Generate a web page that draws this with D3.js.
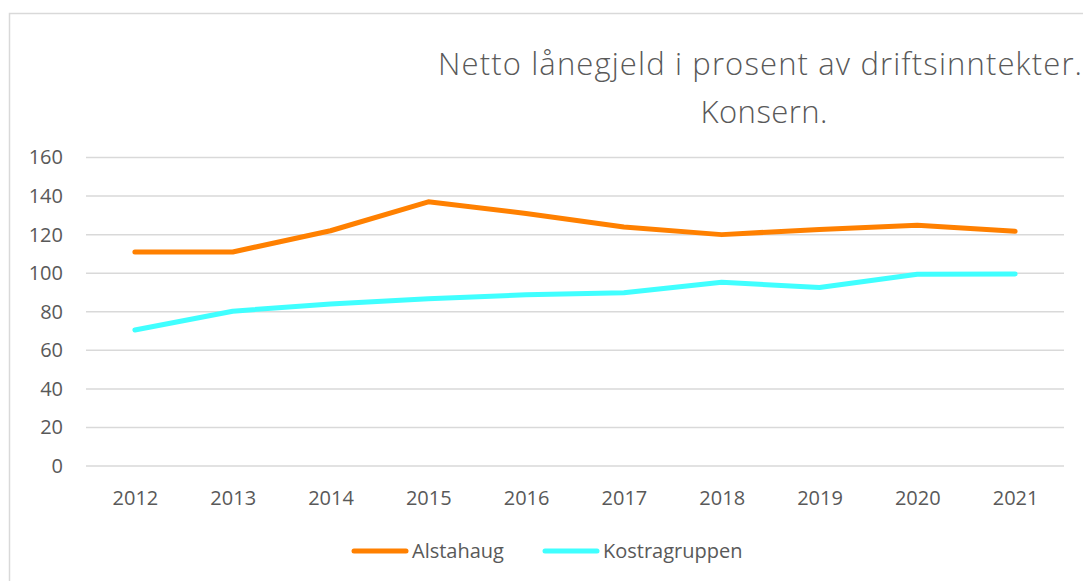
<!DOCTYPE html>
<html>
<head>
    <meta charset="utf-8">
    <title>Netto lånegjeld</title>
    <script src="https://d3js.org/d3.v7.min.js"></script>
    <style>
        body { margin: 0; background: #fff; }
        text { font-family: "Open Sans", "DejaVu Sans", sans-serif; fill: #595959; }
    </style>
</head>
<body>
<div id="chart"></div>
<script>
    // data
    var years = ["2012", "2013", "2014", "2015", "2016", "2017", "2018", "2019", "2020", "2021"];
    var alstahaug = [111, 111, 122, 137, 131, 124, 120, 122.7, 124.8, 121.7];
    var kostra = [70.5, 80.3, 84, 86.7, 88.8, 89.8, 95.3, 92.6, 99.4, 99.6];
    var yTicks = [0, 20, 40, 60, 80, 100, 120, 140, 160];
    var seriesNames = ["Alstahaug", "Kostragruppen"];
    var colors = ["#ff8000", "#40ffff"];

    var W = 1083, H = 581;
    var plot = { left: 86, right: 1064, top: 157.5, bottom: 466 };

    var svg = d3.select("#chart").append("svg")
        .attr("width", W)
        .attr("height", H);

    // chart border
    svg.append("rect")
        .attr("x", 9.5).attr("y", 13.5)
        .attr("width", 1100).attr("height", 600)
        .attr("fill", "#fff")
        .attr("stroke", "#d9d9d9")
        .attr("stroke-width", 1.5);

    var x = d3.scalePoint()
        .domain(years)
        .range([plot.left, plot.right])
        .padding(0.5);

    var y = d3.scaleLinear()
        .domain([0, 160])
        .range([plot.bottom, plot.top]);

    // gridlines
    svg.append("g")
        .selectAll("line")
        .data(yTicks)
        .enter().append("line")
        .attr("x1", plot.left).attr("x2", plot.right)
        .attr("y1", function (d) { return y(d); })
        .attr("y2", function (d) { return y(d); })
        .attr("stroke", "#d9d9d9")
        .attr("stroke-width", 1.5);

    // y axis labels
    var yAxis = svg.append("g")
        .attr("transform", "translate(" + plot.left + ",0)")
        .call(d3.axisLeft(y).tickValues(yTicks).tickSize(0).tickPadding(23));
    yAxis.select(".domain").remove();
    yAxis.selectAll("text").style("font-size", "20px").attr("fill", "#595959");

    // x axis labels
    var xAxis = svg.append("g")
        .attr("transform", "translate(0," + plot.bottom + ")")
        .call(d3.axisBottom(x).tickSize(0).tickPadding(25));
    xAxis.select(".domain").remove();
    xAxis.selectAll("text").style("font-size", "20px").attr("fill", "#595959");

    // lines
    var line = d3.line()
        .x(function (d, i) { return x(years[i]); })
        .y(function (d) { return y(d); });

    [alstahaug, kostra].forEach(function (s, i) {
        svg.append("path")
            .datum(s)
            .attr("d", line)
            .attr("fill", "none")
            .attr("stroke", colors[i])
            .attr("stroke-width", 5)
            .attr("stroke-linecap", "round")
            .attr("stroke-linejoin", "round");
    });

    // title
    svg.append("text")
        .attr("text-anchor", "middle")
        .attr("x", 760).attr("y", 75)
        .attr("textLength", 644)
        .attr("lengthAdjust", "spacing")
        .style("font-size", "31px")
        .style("font-weight", 300)
        .text("Netto lånegjeld i prosent av driftsinntekter.");
    svg.append("text")
        .attr("text-anchor", "middle")
        .attr("x", 764).attr("y", 123)
        .attr("textLength", 127)
        .attr("lengthAdjust", "spacing")
        .style("font-size", "31px")
        .style("font-weight", 300)
        .text("Konsern.");

    // legend
    var legX = [352, 543];
    var leg = svg.append("g").selectAll("g")
        .data(seriesNames)
        .enter().append("g")
        .attr("transform", function (d, i) { return "translate(" + legX[i] + ",551)"; });
    leg.append("line")
        .attr("x1", 2).attr("x2", 54)
        .attr("stroke", function (d, i) { return colors[i]; })
        .attr("stroke-width", 5)
        .attr("stroke-linecap", "round");
    leg.append("text")
        .attr("x", 60).attr("y", 7)
        .style("font-size", "20px")
        .text(function (d) { return d; });
</script>
</body>
</html>
